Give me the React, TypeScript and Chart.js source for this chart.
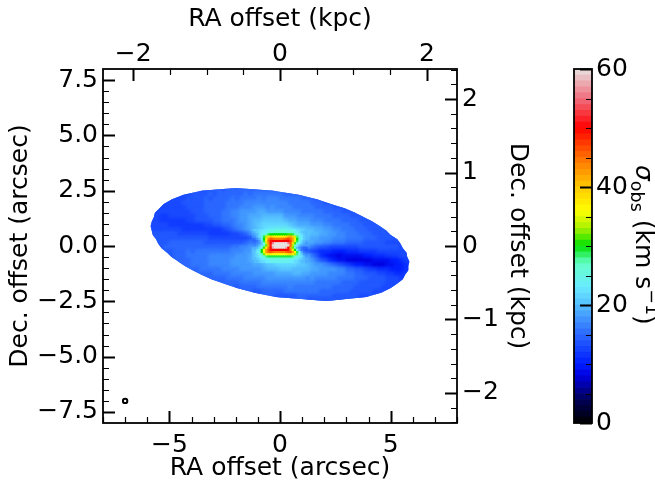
import { useEffect, useRef } from "react";
import { Chart, registerables } from "chart.js";

Chart.register(...registerables);
Chart.defaults.font.family = "'DejaVu Sans'";
Chart.defaults.color = "#000";

const FONT = 25;

// tick positions
const raMajor = [-5, 0, 5];
const raMinor = [-8, -7, -6, -4, -3, -2, -1, 1, 2, 3, 4, 6, 7, 8];
const decMajor = [-7.5, -5, -2.5, 0, 2.5, 5, 7.5];
const decMinor = [-7, -6.5, -6, -5.5, -4.5, -4, -3.5, -3, -2, -1.5, -1, -0.5, 0.5, 1, 1.5, 2, 3, 3.5, 4, 4.5, 5.5, 6, 6.5, 7];
const kpcTopMajor = [-2, 0, 2];
const kpcTopMinor = [-1.5, -1, -0.5, 0.5, 1, 1.5];
const kpcRightMajor = [-2, -1, 0, 1, 2];
const kpcRightMinor = [-2.4, -2.2, -1.8, -1.6, -1.4, -1.2, -0.8, -0.6, -0.4, -0.2, 0.2, 0.4, 0.6, 0.8, 1.2, 1.4, 1.6, 1.8, 2.2, 2.4];
const cbarMajor = [0, 20, 40, 60];
const cbarMinor = [5, 10, 15, 25, 30, 35, 45, 50, 55];

const beam = [{ x: -7, y: -7 }];

// colour bar stops
const cmapValues = [0, 4, 8, 10, 15, 20, 23, 27, 30, 33, 36, 40, 45, 50, 55, 60];
const cmapColors = [
  [0, 0, 0], [0, 0, 90], [0, 0, 225], [0, 30, 255], [43, 104, 255], [85, 190, 255],
  [105, 235, 255], [100, 255, 200], [0, 225, 0], [170, 240, 0], [255, 255, 0], [255, 200, 0],
  [255, 110, 0], [255, 0, 0], [240, 110, 125], [232, 225, 225],
];

// edge of the detected disc, read clockwise from the top
const edgeX = [-2.0, -0.3, 0.9, 1.7, 2.3, 2.95, 3.4, 3.8, 4.2, 4.5, 4.8, 5.0, 5.3, 5.45, 5.55, 5.72, 5.75, 5.85, 5.8, 5.8, 5.65, 5.55, 5.3, 5.0, 4.6, 3.9, 2.1, -0.2, -1.2, -1.95, -2.55, -3.1, -3.55, -3.95, -4.3, -4.6, -4.9, -5.1, -5.35, -5.5, -5.6, -5.75, -5.8, -5.85, -5.8, -5.7, -5.65, -5.45, -5.25, -4.9, -4.4, -3.55];
const edgeY = [2.62, 2.5, 2.3, 2.1, 1.9, 1.7, 1.5, 1.3, 1.1, 0.9, 0.7, 0.5, 0.3, 0.1, -0.1, -0.3, -0.5, -0.7, -0.9, -1.1, -1.3, -1.5, -1.7, -1.9, -2.1, -2.3, -2.49, -2.3, -2.1, -1.9, -1.7, -1.5, -1.3, -1.1, -0.9, -0.7, -0.5, -0.3, -0.1, 0.1, 0.3, 0.5, 0.7, 0.9, 1.1, 1.3, 1.5, 1.7, 1.9, 2.1, 2.3, 2.5];

// disc map, 0.2 arcsec cells: row centre, x of first cell, sigma in km/s
const discY = [2.5, 2.3, 2.1, 1.9, 1.7, 1.5, 1.3, 1.1, 0.9, 0.7, 0.5, 0.3, 0.1, -0.1, -0.3, -0.5, -0.7, -0.9, -1.1, -1.3, -1.5, -1.7, -1.9, -2.1, -2.3, -2.45];
const discStart = [-3.5, -4.3, -4.9, -5.3, -5.5, -5.7, -5.7, -5.7, -5.7, -5.7, -5.7, -5.5, -5.5, -5.3, -5.1, -4.9, -4.5, -4.3, -3.9, -3.5, -3.1, -2.5, -1.9, -1.1, -0.1, 1.3];
const discSigma = [
  [13, 14, 14, 14, 15, 14, 15, 15, 15, 15, 15, 15, 15, 15, 15, 15, 15],
  [13, 13, 14, 14, 14, 14, 15, 14, 15, 15, 15, 15, 15, 15, 16, 15, 16, 16, 16, 16, 16, 16, 16, 15, 15, 15, 15],
  [13, 13, 13, 13, 14, 14, 14, 14, 15, 14, 15, 15, 15, 15, 16, 15, 16, 16, 16, 16, 17, 16, 17, 17, 17, 16, 16, 16, 16, 16, 15, 15, 15, 14],
  [12, 13, 13, 13, 13, 14, 14, 14, 14, 14, 15, 15, 15, 15, 15, 16, 16, 16, 16, 17, 17, 17, 17, 17, 17, 17, 17, 17, 17, 16, 16, 16, 16, 16, 15, 15, 15, 14, 14],
  [13, 13, 13, 13, 13, 13, 13, 14, 14, 14, 14, 15, 15, 15, 15, 15, 16, 16, 16, 17, 17, 17, 18, 18, 18, 17, 18, 17, 17, 17, 17, 16, 16, 16, 16, 16, 15, 15, 15, 15, 14, 14, 14],
  [13, 13, 13, 13, 13, 13, 13, 13, 13, 14, 14, 14, 15, 15, 15, 15, 16, 16, 17, 17, 18, 18, 18, 18, 19, 19, 18, 18, 18, 18, 17, 17, 17, 17, 16, 16, 16, 16, 16, 15, 15, 15, 15, 14, 14, 14],
  [13, 13, 12, 12, 13, 13, 13, 13, 13, 13, 14, 14, 14, 15, 15, 15, 16, 16, 17, 17, 18, 18, 19, 19, 19, 20, 20, 20, 20, 20, 18, 18, 18, 17, 17, 17, 17, 16, 16, 16, 16, 15, 15, 15, 15, 14, 14, 14],
  [13, 13, 12, 12, 12, 12, 12, 12, 13, 13, 14, 14, 14, 14, 15, 15, 16, 16, 16, 17, 18, 18, 19, 20, 20, 21, 21, 21, 21, 21, 20, 19, 19, 18, 18, 18, 17, 17, 17, 16, 16, 16, 16, 15, 15, 15, 15, 14, 14, 14],
  [13, 13, 13, 13, 12, 12, 12, 12, 12, 12, 12, 12, 13, 13, 14, 14, 15, 15, 16, 17, 17, 18, 19, 20, 21, 22, 22, 22, 22, 22, 22, 21, 20, 19, 19, 19, 18, 18, 18, 17, 17, 16, 16, 16, 16, 15, 15, 15, 14, 14, 14, 14],
  [13, 13, 13, 13, 13, 13, 13, 12, 12, 12, 12, 12, 12, 12, 12, 12, 13, 14, 15, 16, 17, 18, 19, 20, 21, 22, 23, 24, 24, 24, 24, 23, 22, 21, 21, 20, 20, 19, 19, 18, 18, 17, 17, 16, 16, 16, 15, 15, 15, 14, 14, 14, 14],
  [14, 14, 14, 14, 14, 14, 13, 13, 13, 13, 13, 13, 13, 12, 12, 12, 12, 12, 13, 13, 14, 15, 17, 19, 21, 22, 24, 24, 25, 25, 25, 25, 24, 24, 22, 21, 20, 20, 19, 19, 18, 18, 17, 17, 16, 16, 16, 15, 15, 15, 14, 14, 14, 14, 14],
  [14, 14, 14, 14, 14, 14, 14, 14, 14, 14, 14, 14, 13, 13, 13, 13, 13, 13, 13, 13, 13, 14, 15, 16, 19, 22, 25, 28, 28, 28, 28, 28, 28, 24, 20, 19, 19, 18, 18, 18, 17, 17, 17, 16, 16, 16, 16, 15, 15, 15, 14, 14, 14, 14, 14],
  [14, 14, 14, 15, 15, 15, 15, 15, 15, 15, 15, 14, 14, 14, 14, 14, 14, 14, 14, 14, 15, 16, 17, 18, 20, 30, 40, 50, 50, 40, 30, 25, 24, 21, 19, 19, 18, 18, 17, 17, 16, 16, 16, 15, 15, 15, 15, 14, 14, 14, 14, 14, 13, 13, 13],
  [14, 15, 15, 15, 15, 15, 15, 15, 15, 15, 15, 15, 15, 15, 15, 15, 16, 16, 17, 17, 18, 19, 20, 22, 30, 40, 50, 50, 40, 30, 25, 22, 20, 18, 16, 15, 14, 14, 13, 13, 13, 13, 13, 13, 13, 14, 14, 14, 14, 14, 14, 14, 14, 14, 13],
  [14, 14, 15, 15, 15, 16, 15, 16, 16, 16, 16, 16, 16, 16, 16, 17, 17, 17, 18, 18, 20, 21, 23, 40, 45, 45, 45, 45, 45, 35, 24, 19, 14, 13, 12, 11, 11, 11, 10, 10, 10, 11, 11, 11, 12, 12, 12, 12, 13, 13, 13, 13, 13, 13, 13],
  [14, 15, 15, 15, 16, 16, 16, 16, 16, 17, 17, 17, 17, 17, 17, 18, 18, 18, 19, 19, 21, 23, 30, 30, 30, 30, 30, 30, 28, 25, 22, 19, 16, 14, 11, 10, 9, 9, 8, 9, 9, 9, 9, 9, 10, 10, 11, 11, 11, 12, 12, 12, 13, 13],
  [15, 15, 15, 16, 16, 16, 16, 17, 17, 17, 17, 17, 18, 18, 18, 18, 19, 19, 19, 20, 22, 23, 23, 23, 24, 24, 23, 22, 20, 19, 18, 16, 14, 13, 11, 10, 9, 9, 8, 8, 8, 8, 8, 8, 9, 9, 9, 9, 10, 10, 11, 12],
  [15, 15, 16, 16, 16, 16, 17, 17, 17, 17, 17, 18, 18, 18, 18, 18, 19, 19, 20, 21, 21, 22, 22, 22, 22, 22, 21, 21, 20, 19, 18, 18, 17, 16, 15, 14, 13, 12, 11, 10, 10, 9, 9, 8, 8, 8, 9, 9, 10, 10, 11],
  [15, 15, 16, 16, 16, 16, 16, 17, 17, 17, 17, 18, 18, 18, 18, 18, 19, 20, 20, 20, 21, 21, 21, 20, 20, 20, 20, 19, 19, 18, 18, 18, 18, 17, 17, 15, 15, 14, 14, 13, 12, 12, 11, 11, 11, 10, 10, 10, 11],
  [15, 15, 15, 16, 16, 16, 16, 17, 17, 17, 17, 17, 18, 18, 18, 18, 18, 19, 19, 19, 19, 20, 20, 19, 19, 18, 18, 18, 18, 17, 17, 17, 17, 16, 16, 15, 15, 14, 14, 14, 13, 13, 12, 12, 11, 11, 12],
  [15, 15, 15, 15, 16, 16, 16, 16, 17, 17, 17, 17, 17, 18, 18, 18, 18, 18, 18, 18, 18, 18, 17, 18, 17, 17, 17, 17, 17, 16, 16, 16, 16, 15, 15, 15, 14, 14, 14, 14, 13, 13, 13, 12],
  [15, 15, 15, 15, 16, 16, 16, 16, 16, 17, 17, 17, 17, 17, 17, 17, 17, 17, 17, 17, 17, 16, 16, 16, 16, 16, 16, 15, 15, 15, 15, 14, 14, 14, 14, 14, 14, 13, 13, 13],
  [14, 15, 15, 15, 15, 16, 16, 16, 16, 16, 16, 16, 17, 16, 16, 16, 16, 16, 16, 16, 16, 16, 15, 15, 15, 15, 15, 14, 14, 14, 14, 14, 14, 13, 13, 13],
  [14, 14, 15, 15, 15, 15, 15, 16, 16, 16, 16, 16, 16, 16, 16, 15, 15, 15, 15, 15, 15, 15, 14, 14, 14, 14, 14, 13, 13],
  [14, 14, 14, 14, 14, 15, 15, 15, 15, 15, 15, 15, 15, 14, 14, 14, 14, 14, 14, 13, 13],
  [14, 14, 14, 14, 14, 14, 14, 14],
];

// centre of the map, 0.1 arcsec cells from x = -1.2
const coreStart = -1.2;
const coreY = [0.7, 0.6, 0.5, 0.4, 0.3, 0.2, 0.1, 0, -0.1, -0.2, -0.3, -0.4, -0.5, -0.6, -0.7];
const coreSigma = [
  [20, 21, 21, 22, 22, 23, 23, 24, 24, 24, 25, 25, 25, 25, 25, 25, 24, 24, 24, 23, 22, 22, 21, 21, 20],
  [19, 20, 21, 22, 23, 23, 24, 25, 26, 26, 27, 27, 27, 27, 27, 26, 26, 26, 25, 24, 23, 22, 21, 20, 20],
  [18, 19, 20, 22, 24, 25, 27, 29, 30, 30, 30, 30, 30, 30, 30, 30, 31, 31, 29, 27, 25, 24, 22, 21, 20],
  [17, 18, 20, 22, 25, 29, 34, 38, 40, 38, 37, 37, 37, 37, 37, 38, 41, 42, 39, 34, 28, 25, 23, 21, 20],
  [15, 16, 18, 20, 24, 30, 37, 43, 46, 45, 44, 44, 44, 44, 45, 46, 47, 45, 42, 37, 30, 26, 23, 21, 20],
  [15, 15, 16, 18, 22, 29, 37, 45, 49, 50, 50, 50, 50, 50, 50, 50, 50, 47, 42, 35, 29, 25, 22, 20, 19],
  [16, 16, 17, 18, 21, 27, 34, 43, 50, 56, 60, 60, 60, 60, 60, 60, 56, 46, 38, 31, 26, 23, 21, 19, 18],
  [17, 17, 18, 20, 22, 26, 32, 42, 51, 60, 60, 60, 60, 60, 60, 60, 60, 45, 33, 27, 23, 20, 19, 18, 18],
  [19, 19, 20, 22, 26, 31, 37, 44, 50, 58, 60, 60, 60, 60, 60, 58, 50, 42, 32, 26, 20, 18, 16, 15, 15],
  [20, 20, 22, 25, 30, 36, 42, 46, 49, 50, 50, 50, 50, 50, 50, 50, 49, 44, 37, 30, 23, 19, 16, 15, 14],
  [20, 21, 23, 25, 30, 36, 42, 45, 46, 45, 44, 44, 44, 44, 44, 45, 46, 46, 42, 36, 29, 24, 19, 16, 15],
  [20, 21, 22, 24, 27, 32, 36, 38, 37, 36, 36, 36, 36, 36, 36, 37, 38, 39, 37, 33, 28, 24, 21, 18, 17],
  [20, 21, 22, 23, 25, 26, 28, 29, 29, 29, 29, 29, 29, 29, 29, 29, 29, 29, 28, 26, 25, 24, 22, 20, 18],
  [20, 20, 21, 22, 23, 24, 25, 25, 26, 26, 26, 26, 26, 26, 26, 26, 25, 25, 25, 24, 23, 22, 21, 20, 19],
  [19, 20, 20, 21, 22, 22, 23, 23, 24, 24, 24, 24, 24, 24, 24, 24, 24, 23, 23, 22, 22, 21, 20, 20, 19],
];

function sigmaColor(v: number) {
  let i = 0;
  while (i < cmapValues.length - 2 && v > cmapValues[i + 1]) i++;
  const t = Math.min(1, (v - cmapValues[i]) / (cmapValues[i + 1] - cmapValues[i]));
  const c = cmapColors[i].map((a, k) => Math.round(a + (cmapColors[i + 1][k] - a) * t));
  return `rgb(${c[0]},${c[1]},${c[2]})`;
}

function cells(rowsY: number[], starts: (r: number) => number, rows: number[][], step: number) {
  const pts: { x: number; y: number; c: string }[] = [];
  rows.forEach((row, r) => {
    row.forEach((v, k) => {
      pts.push({ x: starts(r) + k * step, y: rowsY[r], c: sigmaColor(v) });
    });
  });
  return pts;
}

const minus = (s: string) => s.replace("-", "\u2212");

function fixTicks(list: number[]) {
  return (scale: any) => {
    scale.ticks = list.map((value) => ({ value }));
  };
}

// inward ticks, chart.js only knows outward ones
function drawTicks(ctx: CanvasRenderingContext2D, scale: any, list: number[], len: number, width: number) {
  const area = scale.chart.chartArea;
  ctx.lineWidth = width;
  ctx.beginPath();
  list.forEach((v) => {
    const p = Math.round(scale.getPixelForValue(v)) + 0.5;
    if (scale.position === "bottom") { ctx.moveTo(p, area.bottom); ctx.lineTo(p, area.bottom - len); }
    if (scale.position === "top") { ctx.moveTo(p, area.top); ctx.lineTo(p, area.top + len); }
    if (scale.position === "left") { ctx.moveTo(area.left, p); ctx.lineTo(area.left + len, p); }
    if (scale.position === "right") { ctx.moveTo(area.right, p); ctx.lineTo(area.right - len, p); }
  });
  ctx.stroke();
}

const mapTicks = {
  id: "mapTicks",
  // soften the cells and trim them to the disc edge, the reference map is much finer than this grid
  beforeDatasetDraw(chart: any, args: any) {
    const blur = [0, 0.6, 1.4, 0][args.index];
    if (!blur) return;
    const { ctx, scales } = chart;
    ctx.save();
    ctx.beginPath();
    edgeX.forEach((x, i) => {
      ctx.lineTo(scales.x.getPixelForValue(x), scales.y.getPixelForValue(edgeY[i]));
    });
    ctx.closePath();
    ctx.clip();
    ctx.filter = `blur(${blur}px)`;
  },
  afterDatasetDraw(chart: any, args: any) {
    if ([0, 0.6, 1.4, 0][args.index]) chart.ctx.restore();
  },
  afterDraw(chart: any) {
    const { ctx, chartArea: a, scales } = chart;
    ctx.save();
    ctx.strokeStyle = "#000";
    drawTicks(ctx, scales.x, raMajor, 12, 2);
    drawTicks(ctx, scales.x, raMinor, 6, 1.2);
    drawTicks(ctx, scales.y, decMajor, 12, 2);
    drawTicks(ctx, scales.y, decMinor, 6, 1.2);
    drawTicks(ctx, scales.xTop, kpcTopMajor, 12, 2);
    drawTicks(ctx, scales.xTop, kpcTopMinor, 6, 1.2);
    drawTicks(ctx, scales.yRight, kpcRightMajor, 12, 2);
    drawTicks(ctx, scales.yRight, kpcRightMinor, 6, 1.2);
    ctx.lineWidth = 1.8;
    ctx.strokeRect(a.left, a.top, a.right - a.left, a.bottom - a.top);
    ctx.restore();
  },
};

const cbarDecor = {
  id: "cbarDecor",
  afterDraw(chart: any) {
    const { ctx, chartArea: a, scales } = chart;
    ctx.save();
    ctx.strokeStyle = "#000";
    drawTicks(ctx, scales.y, cbarMajor, 12, 2);
    drawTicks(ctx, scales.y, cbarMinor, 6, 1.2);
    ctx.lineWidth = 1.8;
    ctx.strokeRect(a.left, a.top, a.right - a.left, a.bottom - a.top);
    // colour bar label has a subscript and a superscript
    const parts: [string, string, number][] = [
      ["\u03c3", `italic ${FONT}px 'DejaVu Sans'`, 0],
      ["obs", `17.5px 'DejaVu Sans'`, 5],
      [" (km s", `${FONT}px 'DejaVu Sans'`, 0],
      ["\u22121", `17.5px 'DejaVu Sans'`, -10],
      [")", `${FONT}px 'DejaVu Sans'`, 0],
    ];
    ctx.translate(96, 165);
    ctx.rotate(Math.PI / 2);
    ctx.fillStyle = "#000";
    ctx.textBaseline = "alphabetic";
    let at = 0;
    parts.forEach(([s, f, dy]) => {
      ctx.font = f;
      ctx.fillText(s, at, dy);
      at += ctx.measureText(s).width;
    });
    ctx.restore();
  },
};

function sized(prop: "width" | "height", n: number) {
  return (scale: any) => {
    scale[prop] = n;
  };
}

const noGrid = { display: false, drawTicks: false };

export default function App() {
  const mapRef = useRef<HTMLCanvasElement | null>(null);
  const barRef = useRef<HTMLCanvasElement | null>(null);

  useEffect(() => {
    if (!mapRef.current || !barRef.current) return;
    document.body.style.margin = "0";

    const disc = cells(discY, (r) => discStart[r], discSigma, 0.2);
    const core = cells(coreY, () => coreStart, coreSigma, 0.1);
    const edge = edgeX.map((x, i) => ({ x, y: edgeY[i] }));
    const tickFont = { size: FONT };
    const titleFont = { size: FONT };

    const map = new Chart(mapRef.current, {
      type: "scatter",
      data: {
        datasets: [
          { data: beam, pointStyle: "circle", pointRadius: 2.2, pointBorderWidth: 2, pointBorderColor: "#000", pointBackgroundColor: "transparent", order: 0 },
          { data: core, pointStyle: "rect", pointRadius: 2.3, pointBorderWidth: 0, pointBackgroundColor: core.map((p) => p.c), order: 1 },
          { data: disc, pointStyle: "rect", pointRadius: 4.6, pointBorderWidth: 0, pointBackgroundColor: disc.map((p) => p.c), order: 2 },
          { data: edge, showLine: true, fill: "shape", tension: 0, borderWidth: 0, pointRadius: 0, backgroundColor: sigmaColor(14), order: 3 },
        ],
      } as any,
      plugins: [mapTicks],
      options: {
        responsive: false,
        animation: false,
        layout: { padding: { left: 0, top: 0, bottom: 0, right: 8 } },
        plugins: { legend: { display: false }, tooltip: { enabled: false } },
        scales: {
          x: {
            position: "bottom", min: -8, max: 8,
            grid: noGrid, border: { display: false },
            afterBuildTicks: fixTicks(raMajor), afterFit: sized("height", 67),
            ticks: { font: tickFont, padding: 7, maxRotation: 0, autoSkip: false, callback: (v: any) => minus(String(v)) },
            title: { display: true, text: "RA offset (arcsec)", font: titleFont, padding: { bottom: 7, top: 0 } },
          },
          xTop: {
            position: "top", min: -2.41, max: 2.41,
            grid: noGrid, border: { display: false },
            afterBuildTicks: fixTicks(kpcTopMajor), afterFit: sized("height", 69),
            ticks: { font: tickFont, padding: 0, maxRotation: 0, autoSkip: false, callback: (v: any) => minus(String(v)) },
            title: { display: true, text: "RA offset (kpc)", font: titleFont, padding: { top: 4, bottom: 0 } },
          },
          y: {
            position: "left", min: -8, max: 8,
            grid: noGrid, border: { display: false },
            afterBuildTicks: fixTicks(decMajor), afterFit: sized("width", 103),
            ticks: { font: tickFont, padding: 5, autoSkip: false, callback: (v: any) => minus(Number(v).toFixed(1)) },
            title: { display: true, text: "Dec. offset (arcsec)", font: titleFont, padding: { top: 5, bottom: 0 } },
          },
          yRight: {
            position: "right", min: -2.41, max: 2.41,
            grid: noGrid, border: { display: false },
            afterBuildTicks: fixTicks(kpcRightMajor), afterFit: sized("width", 75),
            ticks: { font: tickFont, padding: 5, autoSkip: false, callback: (v: any) => minus(String(v)) },
            title: { display: true, text: "Dec. offset (kpc)", font: titleFont, padding: { top: 0, bottom: 0 } },
          },
        },
      } as any,
    });

    // colour bar, one stacked band per level
    const bands: number[] = [];
    for (let v = 0; v < 60; v += 1) bands.push(v);
    const bar = new Chart(barRef.current, {
      type: "bar",
      data: {
        labels: [""],
        datasets: bands.map((v) => ({ data: [1], backgroundColor: sigmaColor(v + 0.5), barPercentage: 1, categoryPercentage: 1, borderWidth: 0 })),
      },
      plugins: [cbarDecor],
      options: {
        responsive: false,
        animation: false,
        layout: { padding: { left: 34, top: 69, bottom: 67, right: 0 } },
        plugins: { legend: { display: false }, tooltip: { enabled: false } },
        scales: {
          x: { stacked: true, display: false },
          y: {
            stacked: true, position: "right", min: 0, max: 60,
            grid: noGrid, border: { display: false },
            afterBuildTicks: fixTicks(cbarMajor), afterFit: sized("width", 63),
            ticks: { font: { size: FONT }, padding: 4, autoSkip: false },
          },
        },
      } as any,
    });

    return () => {
      map.destroy();
      bar.destroy();
    };
  }, []);

  return (
    <div style={{ position: "absolute", left: 0, top: 0, width: 655, height: 490, overflow: "hidden" }}>
      <canvas ref={mapRef} width={540} height={490} style={{ position: "absolute", left: 0, top: 0 }} />
      <canvas ref={barRef} width={115} height={490} style={{ position: "absolute", left: 540, top: 0 }} />
    </div>
  );
}
